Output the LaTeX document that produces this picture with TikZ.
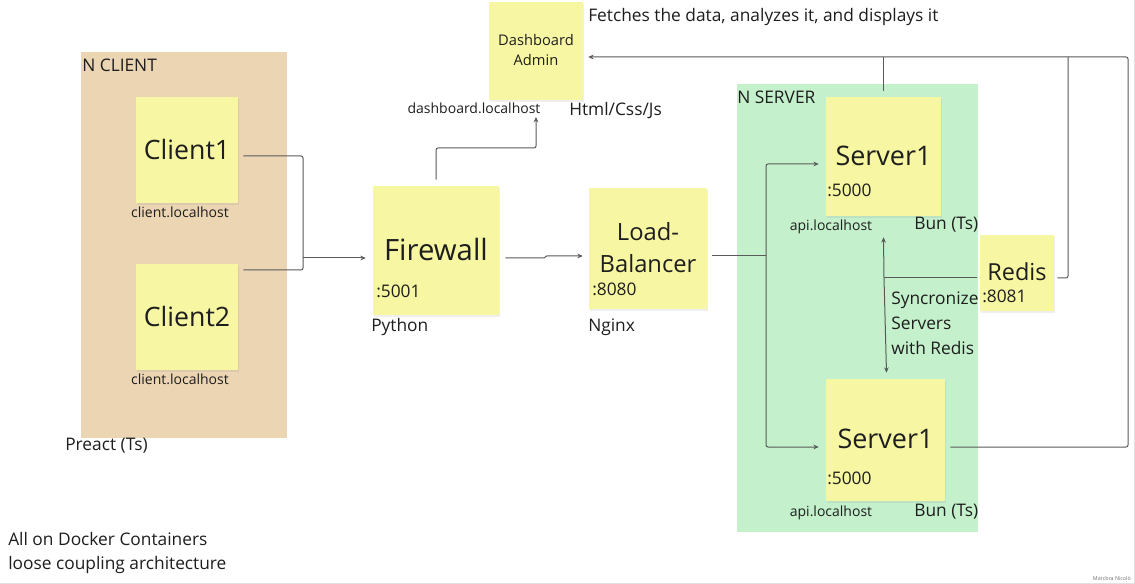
\documentclass[tikz,border=0pt]{standalone}
\usepackage{fontspec}
\setmainfont{Open Sans}
\usetikzlibrary{arrows.meta,fit,shadows,calc}
\definecolor{stickyc}{RGB}{247,247,163}
\definecolor{tanc}{RGB}{235,213,179}
\definecolor{greenc}{RGB}{196,240,204}
\definecolor{linec}{RGB}{90,90,90}
\definecolor{txtc}{RGB}{30,30,30}
\tikzset{
  sticky/.style={fill=stickyc, draw=none, inner sep=0pt, text=txtc, align=center,
    drop shadow={opacity=0.12, shadow xshift=0.8pt, shadow yshift=-1.2pt}},
  zone/.style={draw=none, inner sep=0pt},
  lbl/.style={inner sep=0pt, text=txtc, anchor=west},
  clbl/.style={inner sep=0pt, text=txtc},
  conn/.style={draw=linec, line width=0.75pt, rounded corners=1.5pt},
  arr/.style={conn, -{Stealth[length=4pt,width=3.5pt]}},
  fmed/.style={font=\fontsize{13}{16}\selectfont},
  fsmall/.style={font=\fontsize{10.5}{13}\selectfont},
}
\begin{document}
\begin{tikzpicture}[x=0.75pt,y=-0.75pt]
\useasboundingbox (0,0) rectangle (1135,584);
\fill[white] (0,0) rectangle (1135,584);
\draw[black!12, line width=0.75pt] (0,583.5) -- (1134,583.5) -- (1134,0);

% zones
\node[zone, fill=tanc, fit={(81,52) (287,438)}] (nclient) {};
\node[zone, fill=greenc, fit={(737,84) (978,532)}] (nserver) {};

% stickies
\node[sticky, fit={(136,97) (238,203)}] (c1) {};
\node[clbl, font=\fontsize{20}{24}\selectfont] at (c1.center) {Client1};
\node[sticky, fit={(136,264) (238,370)}] (c2) {};
\node[clbl, font=\fontsize{20}{24}\selectfont] at (c2.center) {Client2};
\node[sticky, fit={(373,186) (499,315)}] (fw) {};
\node[clbl, font=\fontsize{22}{26}\selectfont] at ($(fw.center)+(0,-1)$) {Firewall};
\node[sticky, fit={(489,2) (583,100)}] (dash) {};
\node[clbl, align=center, font=\fontsize{11}{15}\selectfont] at ($(dash.center)+(0,-1)$) {Dashboard\\Admin};
\node[sticky, fit={(589,188) (707,309)}] (lb) {};
\node[clbl, align=center, font=\fontsize{17.8}{23.5}\selectfont] at ($(lb.center)+(0,-1)$) {Load-\\Balancer};
\node[sticky, fit={(826,97) (941,216)}] (s1) {};
\node[clbl, font=\fontsize{20.2}{24}\selectfont] at ($(s1.center)+(0,-1)$) {Server1};
\node[sticky, fit={(826,379) (945,501)}] (s2) {};
\node[clbl, font=\fontsize{20.2}{24}\selectfont] at ($(s2.center)+(0,-1)$) {Server1};
\node[sticky, fit={(980,235) (1054,311)}] (redis) {};
\node[clbl, font=\fontsize{17.6}{21}\selectfont] at ($(redis.center)+(0,-1)$) {Redis};

% labels
\node[lbl, fmed] at (82,65) {N CLIENT};
\node[clbl, fsmall] at (180,212) {client.localhost};
\node[clbl, fsmall] at (180,379) {client.localhost};
\node[lbl, fmed] at (65,446) {Preact (Ts)};
\node[lbl, fmed] at (371,327) {Python};
\node[lbl, fmed] at (376,291) {:5001};
\node[clbl, fsmall] (dashlbl) at (474,108) {dashboard.localhost};
\node[lbl, fmed] at (569,111) {Html/Css/Js};
\node[lbl, fmed] at (588,17) {Fetches the data, analyzes it, and displays it};
\node[lbl, fmed] at (588,327) {Nginx};
\node[lbl, fmed] at (592,289) {:8080};
\node[lbl, fmed] at (737,97) {N SERVER};
\node[lbl, fmed] at (827,190) {:5000};
\node[lbl, fmed] at (827,478) {:5000};
\node[clbl, fsmall] at (831,227) {api.localhost};
\node[clbl, fsmall] at (831,513) {api.localhost};
\node[lbl, fmed] at (914,225) {Bun (Ts)};
\node[lbl, fmed] at (914,512) {Bun (Ts)};
\node[lbl, fmed] at (982,296) {:8081};
\node[inner sep=0pt, text=txtc, anchor=north west, align=left, font=\fontsize{13}{18.4}\selectfont] at (891,292) {Syncronize\\Servers\\with Redis};
\node[inner sep=0pt, text=txtc, anchor=north west, align=left, font=\fontsize{13}{18.4}\selectfont] at (8,532) {All on Docker Containers\\loose coupling architecture};
\node[inner sep=0pt, anchor=east, text=black!55, font=\fontsize{4}{5}\selectfont] at (1131,578) {Marcbra Nicolò};

% junction coordinates
\coordinate (cj) at (303,258);
\coordinate (lbj) at (766,256);
\coordinate (rj) at (884,278);
\coordinate (dashin) at (536,117);
\coordinate (topR) at (1128,57);

% connectors
\draw[conn] ([shift={(5,6)}]c1.east) -| (cj);
\draw[conn] ([shift={(5,-47)}]c2.east) -| (cj);
\draw[arr] (cj) -- ([shift={(-7,7.5)}]fw.west);
\draw[arr] ([shift={(0,-6)}]fw.north) |- ($(dashin)+(0,31)$) -- (dashin);
\draw[arr, rounded corners=0.5pt] ([shift={(6,7.5)}]fw.east) -- ++(39,0) -- ++(2,-2) -- ([shift={(-6,7.5)}]lb.west);
\draw[conn] ([shift={(5,7.5)}]lb.east) -- (lbj);
\draw[arr] (lbj) |- ([shift={(-7,7.5)}]s1.west);
\draw[arr] (lbj) |- ([shift={(-7,7)}]s2.west);
\draw[conn] ([shift={(-3,5)}]redis.west) -- (rj);
\draw[arr] (rj) -- ([shift={(0,21)}]s1.south);
\draw[arr] (rj) -- ([shift={(1,-6)}]s2.north);
\draw[conn] ([shift={(3,5)}]redis.east) -| ($(topR)+(-60,0)$);
\draw[conn] ([shift={(0,-6)}]s1.north) -- ($(s1.north)+(0,-40)$);
\draw[arr] ([shift={(5,7)}]s2.east) -| (topR) -- ([shift={(5,6)}]dash.east);
\end{tikzpicture}
\end{document}
